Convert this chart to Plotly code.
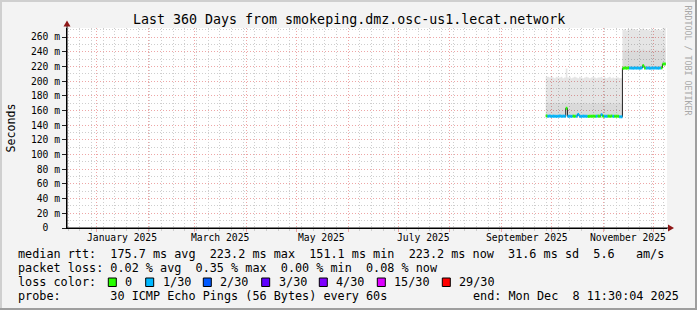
import plotly.graph_objects as go
import pandas as pd

# ---------------- data ----------------
x_start = "2024-12-14 06:00"
x_end = "2025-12-09 06:00"
y_max_ms = 272.3

bin_first = "2025-09-27 12:00"   # daily consolidated rows

median_ms = [
    152.6, 152.2, 152.4, 152.0, 152.3, 152.1, 152.0, 152.2, 152.4, 152.1,
    152.3, 152.0, 163.0, 152.1, 152.2, 152.0, 152.3, 152.1, 152.2, 154.6,
    152.1, 152.0, 152.3, 152.2, 152.1, 152.0, 152.2, 152.1, 152.3, 152.0,
    152.2, 152.4, 152.1, 154.2, 152.2, 152.0, 152.1, 152.3, 152.0, 152.4,
    152.1, 152.0, 152.2, 152.1, 151.6, 151.4,
    217.5, 217.8, 217.6, 217.9, 217.7, 217.8, 217.6, 217.9, 217.7, 217.8,
    217.6, 218.0, 221.0, 217.8, 217.7, 217.9, 217.6, 217.8, 217.7, 217.9,
    217.8, 217.6, 217.8, 218.0, 223.2, 223.2,
]
loss_30 = [
    0, 1, 1, 1, 1, 1, 1, 1, 1, 1,
    1, 1, 0, 1, 1, 1, 0, 0, 1, 1,
    1, 1, 1, 1, 1, 0, 0, 0, 0, 0,
    1, 0, 0, 1, 0, 1, 1, 0, 0, 0,
    1, 0, 0, 0, 1, 1,
    0, 0, 0, 0, 1, 1, 1, 1, 1, 1,
    1, 1, 0, 0, 1, 1, 1, 1, 1, 1,
    1, 1, 1, 0, 0, 0,
]
smoke_mid_ms = [
    170, 171, 170, 169, 170, 171, 170, 170, 169, 170,
    171, 170, 173, 170, 169, 170, 171, 170, 170, 171,
    170, 169, 170, 171, 170, 170, 169, 170, 171, 170,
    170, 169, 170, 171, 170, 169, 170, 170, 171, 170,
    169, 170, 170, 171, 170, 169,
    242, 241, 243, 242, 241, 242, 243, 242, 241, 242,
    243, 242, 244, 242, 241, 242, 243, 242, 241, 242,
    243, 242, 241, 242, 245, 246,
]
smoke_top_ms = [
    206, 206, 205, 207, 205, 204, 206, 205, 205, 206,
    204, 205, 217, 205, 206, 204, 205, 206, 205, 204,
    206, 205, 204, 205, 206, 205, 204, 205, 206, 205,
    204, 205, 205, 206, 204, 205, 204, 205, 206, 204,
    205, 204, 205, 205, 204, 204,
    270, 271, 269, 271, 270, 272, 271, 270, 271, 269,
    270, 271, 272, 270, 271, 270, 269, 271, 270, 271,
    270, 271, 270, 269, 273, 273,
]

y_ticks_ms = list(range(0, 261, 20))
month_label_dates = ["2025-01-16", "2025-03-16", "2025-05-16",
                     "2025-07-16", "2025-09-16", "2025-11-16"]
month_labels = ["January 2025", "March 2025", "May 2025",
                "July 2025", "September 2025", "November 2025"]

loss_levels = [0, 1, 2, 3, 4, 15, 29]
loss_names = ["0", "1/30", "2/30", "3/30", "4/30", "15/30", "29/30"]
loss_colors = ["#26ff00", "#00b8ff", "#0059ff", "#5e00ff", "#7e00ff", "#dd00ff", "#ff0000"]

title = "Last 360 Days from smokeping.dmz.osc-us1.lecat.network"
legend_median = "median rtt:  175.7 ms avg  223.2 ms max  151.1 ms min  223.2 ms now  31.6 ms sd  5.6   am/s"
legend_loss = "packet loss: 0.02 % avg  0.35 % max  0.00 % min  0.08 % now"
legend_color_head = "loss color:"
legend_probe = "probe:       30 ICMP Echo Pings (56 Bytes) every 60s"
legend_end = "end: Mon Dec  8 11:30:04 2025"
watermark = "RRDTOOL / TOBI OETIKER"

# ---------------- geometry ----------------
W, H = 697, 310
L, R, T, B = 67, 30, 28, 82
PW, PH = W - L - R, H - T - B
MONO = "DejaVu Sans Mono"


def px(x):
    return (x - L) / PW


def py(y):
    return (H - B - y) / PH


def nb(s):
    return s.replace(" ", "\u00a0")


n = len(median_ms)
starts = pd.date_range(bin_first, periods=n, freq="D")
edges = list(starts) + [starts[-1] + pd.Timedelta(days=1)]


def stepy(v):
    return list(v) + [v[-1]]


fig = go.Figure()

# smoke: base (median) invisible, then dark band, then light band
fig.add_trace(go.Scatter(x=edges, y=stepy(median_ms), mode="lines",
                         line=dict(width=0, shape="hv"), hoverinfo="skip",
                         showlegend=False))
fig.add_trace(go.Scatter(x=edges, y=stepy(smoke_mid_ms), mode="lines",
                         line=dict(width=0, shape="hv"), fill="tonexty",
                         fillcolor="rgba(0,0,0,0.145)", hoverinfo="skip",
                         showlegend=False))
fig.add_trace(go.Scatter(x=edges, y=stepy(smoke_top_ms), mode="lines",
                         line=dict(width=0, shape="hv"), fill="tonexty",
                         fillcolor="rgba(0,0,0,0.10)", hoverinfo="skip",
                         showlegend=False))

# thin dark median line (gives the vertical joins)
fig.add_trace(go.Scatter(x=edges, y=stepy(median_ms), mode="lines",
                         line=dict(width=1, color="#202020", shape="hv"),
                         hoverinfo="skip", showlegend=False))

# thick loss-coloured median segments
for lvl, col in zip(loss_levels, loss_colors):
    xs, ys = [], []
    for i in range(n):
        if loss_30[i] == lvl:
            xs += [edges[i], edges[i + 1], None]
            ys += [median_ms[i], median_ms[i], None]
    if xs:
        fig.add_trace(go.Scatter(x=xs, y=ys, mode="lines",
                                 line=dict(width=3, color=col),
                                 hoverinfo="skip", showlegend=False))

RED_GRID = "#eea6a6"
GRAY_GRID = "#cecece"
DASH = "1px,2px"

fig.update_xaxes(
    type="date", range=[x_start, x_end], fixedrange=True,
    showline=True, linecolor="#000000", linewidth=1,
    dtick="M1", tick0="2025-01-01",
    showgrid=True, gridcolor=RED_GRID, griddash=DASH, gridwidth=1,
    ticks="outside", ticklen=3, tickcolor=RED_GRID, tickwidth=1,
    showticklabels=False, zeroline=False,
    minor=dict(dtick=7 * 86400000, tick0="2024-12-22", showgrid=True,
               gridcolor=GRAY_GRID, griddash=DASH, gridwidth=1,
               ticks="outside", ticklen=2, tickcolor=GRAY_GRID),
)
fig.update_yaxes(
    range=[0, y_max_ms], fixedrange=True,
    showline=True, linecolor="#000000", linewidth=1,
    tickvals=y_ticks_ms,
    ticktext=[nb("0  ") if v == 0 else f"{v} m" for v in y_ticks_ms],
    tickfont=dict(family=MONO, size=9.7, color="#000000"),
    showgrid=True, gridcolor=RED_GRID, griddash=DASH, gridwidth=1,
    ticks="outside", ticklen=4, tickcolor="#202020", zeroline=False,
    minor=dict(dtick=10, showgrid=True, gridcolor=GRAY_GRID,
               griddash=DASH, gridwidth=1),
)

ann = []
# x labels
for d, t in zip(month_label_dates, month_labels):
    ann.append(dict(x=d, xref="x", y=py(237.7), yref="paper", text=t,
                    showarrow=False, xanchor="center", yanchor="middle",
                    font=dict(family=MONO, size=9.7, color="#000")))
# title
ann.append(dict(x=px(348.5), y=py(20), xref="paper", yref="paper", text=nb(title),
                showarrow=False, xanchor="center", yanchor="middle",
                font=dict(family=MONO, size=13.3, color="#000")))
# y title
ann.append(dict(x=px(10.5), y=py(128), xref="paper", yref="paper", text="Seconds",
                showarrow=False, xanchor="center", yanchor="middle", textangle=-90,
                font=dict(family=MONO, size=11.6, color="#000")))
# watermark
ann.append(dict(x=px(687.5), y=py(60), xref="paper", yref="paper", text=nb(watermark),
                showarrow=False, xanchor="center", yanchor="middle", textangle=90,
                font=dict(family=MONO, size=8.3, color="#a8a8a8")))
# legend lines
LX = 15.7
for txt, yy in [(legend_median, 254.3), (legend_loss, 268.3),
                (legend_color_head, 282.3), (legend_probe, 296.0)]:
    ann.append(dict(x=px(LX), y=py(yy), xref="paper", yref="paper", text=nb(txt),
                    showarrow=False, xanchor="left", yanchor="middle",
                    font=dict(family=MONO, size=11.8, color="#000")))
ann.append(dict(x=px(680.5), y=py(296.0), xref="paper", yref="paper", text=nb(legend_end),
                showarrow=False, xanchor="right", yanchor="middle",
                font=dict(family=MONO, size=11.8, color="#000")))

shapes = []
box_left = [108.3, 145.7, 203.3, 261.7, 319.3, 377.3, 442.3]
for bx, name, col in zip(box_left, loss_names, loss_colors):
    shapes.append(dict(type="rect", xref="paper", yref="paper",
                       x0=px(bx), x1=px(bx + 8), y0=py(286.5), y1=py(278.0),
                       fillcolor=col, line=dict(color="#000", width=1)))
    ann.append(dict(x=px(bx + 15), y=py(282.3), xref="paper", yref="paper",
                    text=nb(name), showarrow=False, xanchor="left", yanchor="middle",
                    font=dict(family=MONO, size=11.8, color="#000")))

ARROW = "#8e1616"
# axis extensions and arrows
shapes.append(dict(type="line", xref="paper", yref="paper",
                   x0=px(67), x1=px(67), y0=py(228), y1=py(25),
                   line=dict(color="#000", width=1)))
shapes.append(dict(type="path", xref="paper", yref="paper",
                   path=f"M {px(63.5)} {py(26.5)} L {px(70.5)} {py(26.5)} L {px(67)} {py(20.5)} Z",
                   fillcolor=ARROW, line=dict(color=ARROW, width=0)))
shapes.append(dict(type="line", xref="paper", yref="paper",
                   x0=px(67), x1=px(669), y0=py(228), y1=py(228),
                   line=dict(color="#000", width=1)))
shapes.append(dict(type="path", xref="paper", yref="paper",
                   path=f"M {px(668)} {py(224.5)} L {px(668)} {py(231.5)} L {px(674)} {py(228)} Z",
                   fillcolor=ARROW, line=dict(color=ARROW, width=0)))
# 3D frame
shapes += [
    dict(type="rect", xref="paper", yref="paper", x0=px(0), x1=px(697), y0=py(0), y1=py(2),
         fillcolor="#cfcfcf", line=dict(width=0)),
    dict(type="rect", xref="paper", yref="paper", x0=px(0), x1=px(2), y0=py(0), y1=py(310),
         fillcolor="#cfcfcf", line=dict(width=0)),
    dict(type="rect", xref="paper", yref="paper", x0=px(0), x1=px(697), y0=py(308), y1=py(310),
         fillcolor="#9e9e9e", line=dict(width=0)),
    dict(type="rect", xref="paper", yref="paper", x0=px(695), x1=px(697), y0=py(0), y1=py(310),
         fillcolor="#9e9e9e", line=dict(width=0)),
]

fig.update_layout(
    width=W, height=H, margin=dict(l=L, r=R, t=T, b=B, pad=0),
    paper_bgcolor="#f3f3f3", plot_bgcolor="#ffffff",
    font=dict(family=MONO, color="#000"),
    showlegend=False, annotations=ann, shapes=shapes,
)

fig.write_html("out.html")
